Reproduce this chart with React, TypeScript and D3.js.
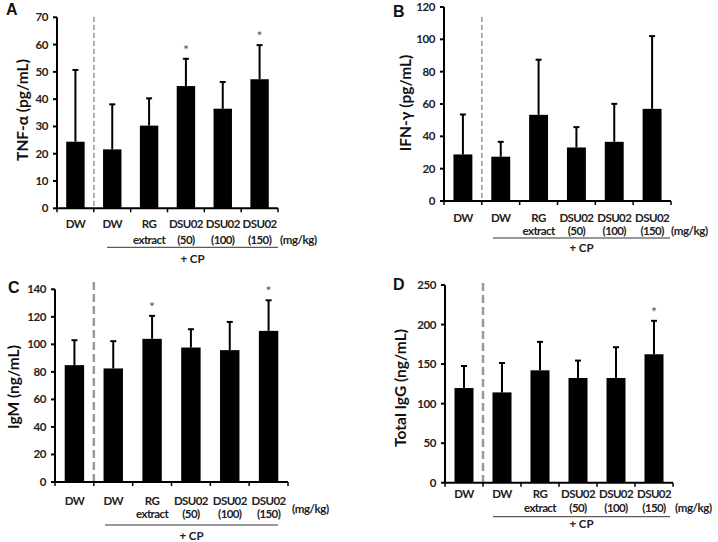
import React from 'react'
import * as d3 from 'd3'

// groups on the x axis (two label rows)
const groups = ['DW', 'DW', 'RG', 'DSU02', 'DSU02', 'DSU02']
const groupSub = ['', '', 'extract', '(50)', '(100)', '(150)']

// A: TNF-alpha
const tnfMean = [24.4, 21.6, 30.3, 44.8, 36.5, 47.3]
const tnfUpper = [50.7, 38.1, 40.3, 54.8, 46.3, 59.8]
const tnfStars = [false, false, false, true, false, true]

// B: IFN-gamma
const ifnMean = [28.8, 27.4, 53.3, 33.1, 36.6, 57.0]
const ifnUpper = [53.5, 36.6, 87.4, 45.7, 60.1, 102.0]
const ifnStars = [false, false, false, false, false, false]

// C: IgM
const igmMean = [84.9, 82.5, 104.0, 97.7, 95.8, 109.8]
const igmUpper = [103.0, 102.3, 120.7, 111.0, 116.3, 132.0]
const igmStars = [false, false, true, false, false, true]

// D: total IgG
const iggMean = [119.7, 114.2, 142.1, 132.4, 132.4, 162.4]
const iggUpper = [147.6, 151.4, 178.1, 154.4, 171.3, 204.7]
const iggStars = [false, false, false, false, false, true]

const labelFont = "Lato, 'Open Sans', sans-serif"

const panels = [
  {
    letter: 'A', title: 'TNF-α (pg/mL)', mean: tnfMean, upper: tnfUpper, stars: tnfStars,
    max: 70, step: 10, x0: 57, x1: 278, yTop: 17.3, yBottom: 208.3,
    dashTop: 17, dashW: 1.5, dash: '5,3', letterX: 6, letterY: 15, titleX: 22, titleY: 110,
    row1: 20, row2: 36, rule: 39, cp: 55, ruleFrom: 107, ruleTo: 278, mgX: 280, mgY: 36,
  },
  {
    letter: 'B', title: 'IFN-γ (pg/mL)', mean: ifnMean, upper: ifnUpper, stars: ifnStars,
    max: 120, step: 20, x0: 444, x1: 671, yTop: 7, yBottom: 201,
    dashTop: 17, dashW: 1.5, dash: '5,3', letterX: 393, letterY: 17, titleX: 405, titleY: 103,
    row1: 21, row2: 34, rule: 37, cp: 51, ruleFrom: 493, ruleTo: 670, mgX: 671, mgY: 34,
  },
  {
    letter: 'C', title: 'IgM (ng/mL)', mean: igmMean, upper: igmUpper, stars: igmStars,
    max: 140, step: 20, x0: 55, x1: 288, yTop: 289.3, yBottom: 482,
    dashTop: 282, dashW: 2.5, dash: '8,4', letterX: 8, letterY: 293, titleX: 13, titleY: 387,
    row1: 23, row2: 36, rule: 43, cp: 58, ruleFrom: 105, ruleTo: 278, mgX: 292, mgY: 31,
  },
  {
    letter: 'D', title: 'Total IgG (ng/mL)', mean: iggMean, upper: iggUpper, stars: iggStars,
    max: 250, step: 50, x0: 445, x1: 673, yTop: 285, yBottom: 482.7,
    dashTop: 283, dashW: 2.5, dash: '8,4', letterX: 393, letterY: 290, titleX: 400, titleY: 388,
    row1: 15, row2: 29, rule: 34, cp: 45, ruleFrom: 493, ruleTo: 670, mgX: 675, mgY: 29,
  },
]

function BarPanel({ p }: { p: any }) {
  const keys = d3.range(groups.length).map(String)
  const x = d3.scaleBand().domain(keys).range([p.x0, p.x1]).paddingInner(0.5).paddingOuter(0.25)
  const y = d3.scaleLinear().domain([0, p.max]).range([p.yBottom, p.yTop])
  const ticks = d3.range(0, p.max + p.step / 2, p.step)
  const slot = x.step()
  const bounds = d3.range(groups.length + 1).map((i) => p.x0 + i * slot)
  const cx = (i: number) => (x(String(i)) as number) + x.bandwidth() / 2

  return (
    <g>
      <text x={p.letterX} y={p.letterY} fontFamily="'Liberation Sans', Arial, sans-serif"
        fontWeight="bold" fontSize={16} fill="#111">{p.letter}</text>
      <text transform={`translate(${p.titleX},${p.titleY}) rotate(-90)`} textAnchor="middle"
        dominantBaseline="central" fontFamily={labelFont} fontWeight="bold" fontSize={15.5} fill="#111">
        {p.title}
      </text>

      {/* bars */}
      {p.mean.map((v: number, i: number) => (
        <rect key={'b' + i} x={x(String(i))} y={y(v)} width={x.bandwidth()} height={y(0) - y(v)} fill="#000" />
      ))}
      {/* error bars, upper only */}
      {p.upper.map((u: number, i: number) => (
        <g key={'e' + i} stroke="#000" strokeWidth={2}>
          <line x1={cx(i)} x2={cx(i)} y1={y(p.mean[i])} y2={y(u)} />
          <line x1={cx(i) - 3} x2={cx(i) + 3} y1={y(u)} y2={y(u)} />
        </g>
      ))}
      {p.stars.map((s: boolean, i: number) => s ? (
        <text key={'s' + i} x={cx(i)} y={y(p.upper[i]) - 4} textAnchor="middle" fontFamily={labelFont}
          fontSize={14} fill="#555">*</text>
      ) : null)}

      {/* dashed separator */}
      <line x1={bounds[1]} x2={bounds[1]} y1={p.dashTop} y2={p.yBottom} stroke="#999"
        strokeWidth={p.dashW} strokeDasharray={p.dash} />

      {/* axes */}
      <line x1={p.x0} x2={p.x0} y1={p.yTop} y2={p.yBottom} stroke="#000" strokeWidth={2} />
      <line x1={p.x0 - 1} x2={p.x1} y1={p.yBottom} y2={p.yBottom} stroke="#000" strokeWidth={2} />
      {ticks.map((t) => (
        <g key={'t' + t}>
          <line x1={p.x0 - 4} x2={p.x0} y1={y(t)} y2={y(t)} stroke="#000" strokeWidth={2} />
          <text x={p.x0 - 9} y={y(t)} dy="0.35em" textAnchor="end" fontFamily={labelFont}
            fontWeight="bold" fontSize={11.5} letterSpacing={-0.4} fill="#222">{t}</text>
        </g>
      ))}
      {bounds.map((b, i) => (
        <line key={'xt' + i} x1={b} x2={b} y1={p.yBottom} y2={p.yBottom + 4} stroke="#000" strokeWidth={1.5} />
      ))}

      {/* group labels */}
      {groups.map((g, i) => (
        <g key={'g' + i} fontFamily={labelFont} fontWeight="bold" fontSize={11.5} fill="#222"
          textAnchor="middle" letterSpacing={-0.6}>
          <text x={cx(i)} y={p.yBottom + p.row1}>{g}</text>
          {groupSub[i] && <text x={cx(i)} y={p.yBottom + p.row2}>{groupSub[i]}</text>}
        </g>
      ))}
      <text x={p.mgX} y={p.yBottom + p.mgY} fontFamily={labelFont} fontWeight="bold" fontSize={11.5}
        letterSpacing={-0.4} fill="#222">(mg/kg)</text>
      <line x1={p.ruleFrom} x2={p.ruleTo} y1={p.yBottom + p.rule} y2={p.yBottom + p.rule} stroke="#333" strokeWidth={1} />
      <text x={(p.ruleFrom + p.ruleTo) / 2} y={p.yBottom + p.cp} textAnchor="middle" fontFamily={labelFont}
        fontWeight="bold" fontSize={11.5} fill="#222">+ CP</text>
    </g>
  )
}

export default function App() {
  return (
    <svg width={718} height={542} style={{ position: 'absolute', left: 0, top: 0, background: '#fff' }}>
      <rect width={718} height={542} fill="#fff" />
      {panels.map((p) => <BarPanel key={p.letter} p={p} />)}
    </svg>
  )
}
